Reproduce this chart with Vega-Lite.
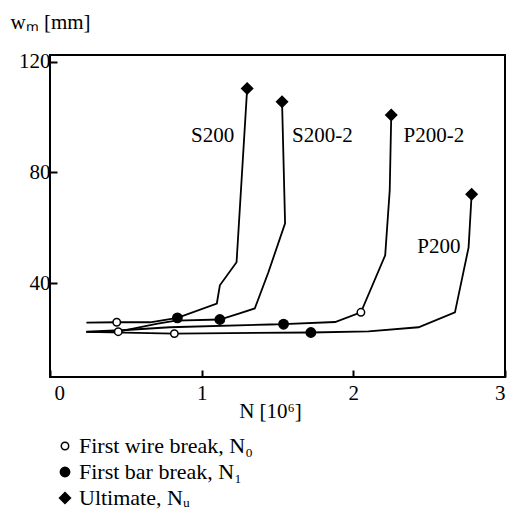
{
  "$schema": "https://vega.github.io/schema/vega-lite/v6.json",
  "width": 455,
  "height": 322,
  "autosize": "none",
  "padding": {"left": 50, "top": 55, "right": 7, "bottom": 149},
  "background": "white",
  "config": {
    "view": {"stroke": "black", "strokeWidth": 2},
    "font": "Liberation Serif",
    "axis": {
      "grid": false,
      "domain": false,
      "labelFont": "Liberation Serif",
      "titleFont": "Liberation Serif",
      "labelColor": "black",
      "titleColor": "black",
      "tickColor": "black",
      "tickWidth": 2,
      "labelFontSize": 21,
      "titleFontSize": 21,
      "titleFontWeight": "normal"
    },
    "legend": {
      "labelLimit": 0,
      "labelFontSize": 22,
      "labelFont": "Liberation Serif",
      "labelColor": "black",
      "symbolStrokeWidth": 1.5,
      "rowPadding": 4,
      "labelOffset": 3
    }
  },
  "datasets": {
    "curves": [
      {"series": "S200", "i": 1, "N": 0.24, "w": 25.7},
      {"series": "S200", "i": 2, "N": 0.44, "w": 25.8},
      {"series": "S200", "i": 3, "N": 0.66, "w": 25.8},
      {"series": "S200", "i": 4, "N": 0.84, "w": 27.4},
      {"series": "S200", "i": 5, "N": 1.10, "w": 32.6},
      {"series": "S200", "i": 6, "N": 1.12, "w": 39.2},
      {"series": "S200", "i": 7, "N": 1.23, "w": 47.5},
      {"series": "S200", "i": 8, "N": 1.30, "w": 110.4},
      {"series": "S200-2", "i": 1, "N": 0.24, "w": 22.3},
      {"series": "S200-2", "i": 2, "N": 0.45, "w": 22.4},
      {"series": "S200-2", "i": 3, "N": 0.71, "w": 25.3},
      {"series": "S200-2", "i": 4, "N": 0.83, "w": 26.4},
      {"series": "S200-2", "i": 5, "N": 1.12, "w": 26.8},
      {"series": "S200-2", "i": 6, "N": 1.25, "w": 29.0},
      {"series": "S200-2", "i": 7, "N": 1.35, "w": 30.8},
      {"series": "S200-2", "i": 8, "N": 1.44, "w": 43.9},
      {"series": "S200-2", "i": 9, "N": 1.55, "w": 61.6},
      {"series": "S200-2", "i": 10, "N": 1.53, "w": 105.6},
      {"series": "P200-2", "i": 1, "N": 0.24, "w": 22.4},
      {"series": "P200-2", "i": 2, "N": 0.50, "w": 23.0},
      {"series": "P200-2", "i": 3, "N": 0.79, "w": 24.0},
      {"series": "P200-2", "i": 4, "N": 1.45, "w": 25.0},
      {"series": "P200-2", "i": 5, "N": 1.54, "w": 25.1},
      {"series": "P200-2", "i": 6, "N": 1.88, "w": 25.9},
      {"series": "P200-2", "i": 7, "N": 2.05, "w": 29.4},
      {"series": "P200-2", "i": 8, "N": 2.21, "w": 50.0},
      {"series": "P200-2", "i": 9, "N": 2.24, "w": 73.6},
      {"series": "P200-2", "i": 10, "N": 2.25, "w": 100.8},
      {"series": "P200", "i": 1, "N": 0.24, "w": 22.3},
      {"series": "P200", "i": 2, "N": 0.82, "w": 21.7},
      {"series": "P200", "i": 3, "N": 1.72, "w": 22.1},
      {"series": "P200", "i": 4, "N": 2.10, "w": 22.5},
      {"series": "P200", "i": 5, "N": 2.43, "w": 24.0},
      {"series": "P200", "i": 6, "N": 2.67, "w": 29.4},
      {"series": "P200", "i": 7, "N": 2.76, "w": 52.9},
      {"series": "P200", "i": 8, "N": 2.78, "w": 72.1}
    ],
    "markers": [
      {"series": "S200", "type": "First wire break, N₀", "N": 0.44, "w": 25.8},
      {"series": "S200-2", "type": "First wire break, N₀", "N": 0.45, "w": 22.4},
      {"series": "P200", "type": "First wire break, N₀", "N": 0.82, "w": 21.7},
      {"series": "P200-2", "type": "First wire break, N₀", "N": 2.05, "w": 29.4},
      {"series": "S200", "type": "First bar break, N₁", "N": 0.84, "w": 27.4},
      {"series": "S200-2", "type": "First bar break, N₁", "N": 1.12, "w": 26.8},
      {"series": "P200-2", "type": "First bar break, N₁", "N": 1.54, "w": 25.1},
      {"series": "P200", "type": "First bar break, N₁", "N": 1.72, "w": 22.1},
      {"series": "S200", "type": "Ultimate, Nᵤ", "N": 1.30, "w": 110.4},
      {"series": "S200-2", "type": "Ultimate, Nᵤ", "N": 1.53, "w": 105.6},
      {"series": "P200-2", "type": "Ultimate, Nᵤ", "N": 2.25, "w": 100.8},
      {"series": "P200", "type": "Ultimate, Nᵤ", "N": 2.78, "w": 72.1}
    ],
    "labels": [
      {"label": "S200", "N": 1.072, "w": 93.3},
      {"label": "S200-2", "N": 1.796, "w": 93.3},
      {"label": "P200-2", "N": 2.531, "w": 93.3},
      {"label": "P200", "N": 2.564, "w": 53.0}
    ]
  },
  "layer": [
    {
      "data": {"name": "curves"},
      "mark": {"type": "line", "color": "black", "strokeWidth": 1.8},
      "encoding": {
        "x": {
          "field": "N", "type": "quantitative",
          "scale": {"domain": [0, 3], "nice": false, "zero": false},
          "axis": {
            "values": [0, 1, 2, 3],
            "format": "d",
            "tickSize": -7,
            "labelPadding": 12,
            "labelOffset": {"condition": {"test": "datum.value == 0", "value": 4}, "value": 0},
            "title": "N [10⁶]",
            "titleX": 220,
            "titleY": 40,
            "titleBaseline": "alphabetic",
            "titleAlign": "center"
          }
        },
        "y": {
          "field": "w", "type": "quantitative",
          "scale": {"domain": [6, 122.5], "nice": false, "zero": false},
          "axis": {
            "values": [40, 80, 120],
            "tickSize": -7,
            "labelPadding": 7,
            "title": "wₘ [mm]",
            "titleAngle": 0,
            "titleX": -40,
            "titleY": -27,
            "titleAlign": "left",
            "titleBaseline": "alphabetic"
          }
        },
        "detail": {"field": "series"},
        "order": {"field": "i", "type": "quantitative"}
      }
    },
    {
      "data": {"name": "markers"},
      "mark": {"type": "point", "filled": true, "strokeWidth": 1.5, "opacity": 1},
      "encoding": {
        "x": {"field": "N", "type": "quantitative"},
        "y": {"field": "w", "type": "quantitative"},
        "shape": {
          "field": "type", "type": "nominal",
          "scale": {"domain": ["First wire break, N₀", "First bar break, N₁", "Ultimate, Nᵤ"], "range": ["circle", "circle", "diamond"]},
          "legend": {"title": null, "orient": "none", "legendX": 4, "legendY": 380}
        },
        "fill": {
          "field": "type", "type": "nominal",
          "scale": {"domain": ["First wire break, N₀", "First bar break, N₁", "Ultimate, Nᵤ"], "range": ["white", "black", "black"]},
          "legend": {"title": null, "orient": "none", "legendX": 4, "legendY": 380}
        },
        "stroke": {
          "field": "type", "type": "nominal",
          "scale": {"domain": ["First wire break, N₀", "First bar break, N₁", "Ultimate, Nᵤ"], "range": ["black", "black", "black"]},
          "legend": {"title": null, "orient": "none", "legendX": 4, "legendY": 380}
        },
        "size": {
          "field": "type", "type": "nominal",
          "scale": {"domain": ["First wire break, N₀", "First bar break, N₁", "Ultimate, Nᵤ"], "range": [55, 120, 170]},
          "legend": {"title": null, "orient": "none", "legendX": 4, "legendY": 380}
        }
      }
    },
    {
      "data": {"name": "labels"},
      "mark": {"type": "text", "font": "Liberation Serif", "fontSize": 21, "color": "black", "align": "center", "baseline": "middle"},
      "encoding": {
        "x": {"field": "N", "type": "quantitative"},
        "y": {"field": "w", "type": "quantitative"},
        "text": {"field": "label"}
      }
    }
  ]
}
